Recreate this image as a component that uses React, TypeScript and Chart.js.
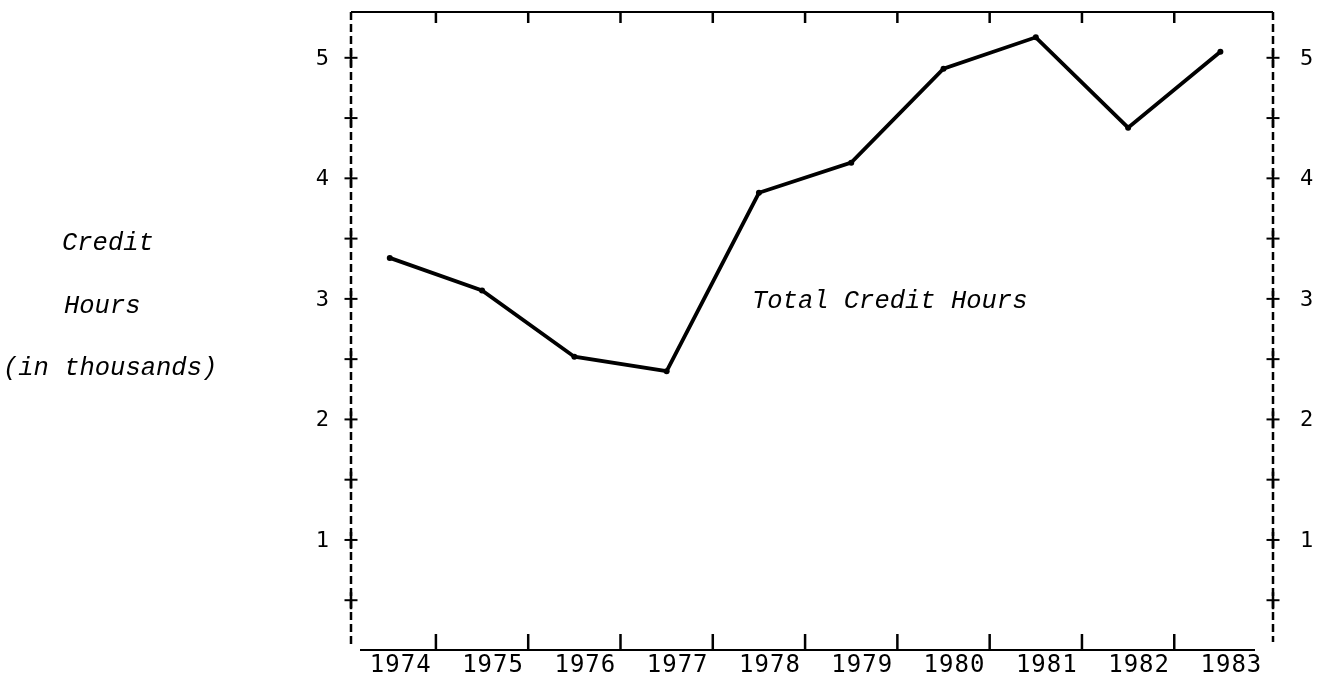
import React, { useEffect, useRef } from "react";
import { Chart, registerables } from "chart.js";

Chart.register(...registerables);

// ---- data ----
const years = [1974, 1975, 1976, 1977, 1978, 1979, 1980, 1981, 1982, 1983];
const yearLabels = ["1974", "1975", "1976", "1977", "1978", "1979", "1980", "1981", "1982", "1983"];
const creditHours = [3.34, 3.07, 2.52, 2.4, 3.88, 4.13, 4.91, 5.17, 4.42, 5.05];
const yTickMarks = [0.5, 1, 1.5, 2, 2.5, 3, 3.5, 4, 4.5, 5];
const yTickLabels = [1, 2, 3, 4, 5];
const xTickMarks = [1974.5, 1975.5, 1976.5, 1977.5, 1978.5, 1979.5, 1980.5, 1981.5, 1982.5];
const yAxisTitleLines = ["Credit", "Hours", "(in thousands)"];
const seriesLabel = "Total Credit Hours";

const framePlugin = {
  id: "typewriterFrame",
  beforeDatasetsDraw(chart: any) {
    const { ctx, chartArea: a, scales } = chart;
    const xs = scales.x;
    const ys = scales.y;
    ctx.save();
    ctx.strokeStyle = "#000";
    ctx.fillStyle = "#000";
    ctx.lineCap = "butt";

    // top and bottom lines
    ctx.lineWidth = 2;
    ctx.beginPath();
    ctx.moveTo(a.left, a.top);
    ctx.lineTo(a.right, a.top);
    ctx.stroke();
    ctx.beginPath();
    ctx.moveTo(a.left + 9, a.bottom);
    ctx.lineTo(a.right - 18, a.bottom);
    ctx.stroke();

    // dashed sides
    ctx.setLineDash([8, 4]);
    ctx.lineWidth = 2.5;
    ctx.beginPath();
    ctx.moveTo(a.left, a.top);
    ctx.lineTo(a.left, a.bottom - 5);
    ctx.stroke();
    ctx.beginPath();
    ctx.moveTo(a.right, a.top);
    ctx.lineTo(a.right, a.bottom - 8);
    ctx.stroke();
    ctx.setLineDash([]);

    // crosses on the side axes
    for (const v of yTickMarks) {
      const py = ys.getPixelForValue(v);
      for (const ax of [a.left, a.right]) {
        ctx.lineWidth = 2;
        ctx.beginPath();
        ctx.moveTo(ax - 6.5, py);
        ctx.lineTo(ax + 6.5, py);
        ctx.stroke();
        ctx.lineWidth = 2.5;
        ctx.beginPath();
        ctx.moveTo(ax, py - 8);
        ctx.lineTo(ax, py + 9);
        ctx.stroke();
      }
    }

    // x tick marks, top and bottom
    ctx.lineWidth = 2.5;
    for (const v of xTickMarks) {
      const px = xs.getPixelForValue(v);
      ctx.beginPath();
      ctx.moveTo(px, a.top);
      ctx.lineTo(px, a.top + 11);
      ctx.stroke();
      ctx.beginPath();
      ctx.moveTo(px, a.bottom);
      ctx.lineTo(px, a.bottom - 16);
      ctx.stroke();
    }

    // y tick labels
    ctx.font = "22px 'DejaVu Sans Mono'";
    ctx.textBaseline = "middle";
    for (const v of yTickLabels) {
      const py = ys.getPixelForValue(v) + 1;
      ctx.textAlign = "right";
      ctx.fillText(String(v), a.left - 22, py);
      ctx.textAlign = "left";
      ctx.fillText(String(v), a.right + 27, py);
    }

    // year labels
    ctx.font = "24px 'DejaVu Sans Mono'";
    ctx.textBaseline = "alphabetic";
    ctx.textAlign = "center";
    (ctx as any).letterSpacing = "1px";
    for (let i = 0; i < years.length; i++) {
      const px = xs.getPixelForValue(years[i]) + 11;
      ctx.fillText(yearLabels[i], px, a.bottom + 22);
    }

    // italic typewriter texts
    ctx.font = "italic 25.5px 'Liberation Mono'";
    (ctx as any).letterSpacing = "0px";
    ctx.textAlign = "left";
    ctx.fillText(yAxisTitleLines[0], 62, 250);
    ctx.fillText(yAxisTitleLines[1], 64, 313);
    ctx.fillText(yAxisTitleLines[2], 3, 375);
    ctx.fillText(seriesLabel, 752, 308);

    ctx.restore();
  },
};

export default function App() {
  const canvasRef = useRef<HTMLCanvasElement | null>(null);

  useEffect(() => {
    const canvas = canvasRef.current;
    if (!canvas) return;
    const chart = new Chart(canvas, {
      type: "line",
      data: {
        datasets: [
          {
            label: seriesLabel,
            data: years.map((yr, i) => ({ x: yr, y: creditHours[i] })),
            borderColor: "#000",
            backgroundColor: "#000",
            borderWidth: 3.8,
            pointRadius: 3,
            pointBackgroundColor: "#000",
            pointBorderWidth: 0,
            tension: 0,
          },
        ],
      },
      options: {
        animation: false,
        responsive: false,
        events: [],
        layout: { padding: { left: 351, right: 47, top: 12, bottom: 23 } },
        scales: {
          x: { type: "linear", min: 1973.58, max: 1983.57, display: false },
          y: { type: "linear", min: 0.087, max: 5.38, display: false },
        },
        plugins: {
          legend: { display: false },
          tooltip: { enabled: false },
        },
      },
      plugins: [framePlugin],
    });
    return () => chart.destroy();
  }, []);

  return (
    <div style={{ position: "fixed", left: 0, top: 0, width: 1320, height: 673, background: "#fff" }}>
      <canvas ref={canvasRef} width={1320} height={673} style={{ display: "block" }} />
    </div>
  );
}
